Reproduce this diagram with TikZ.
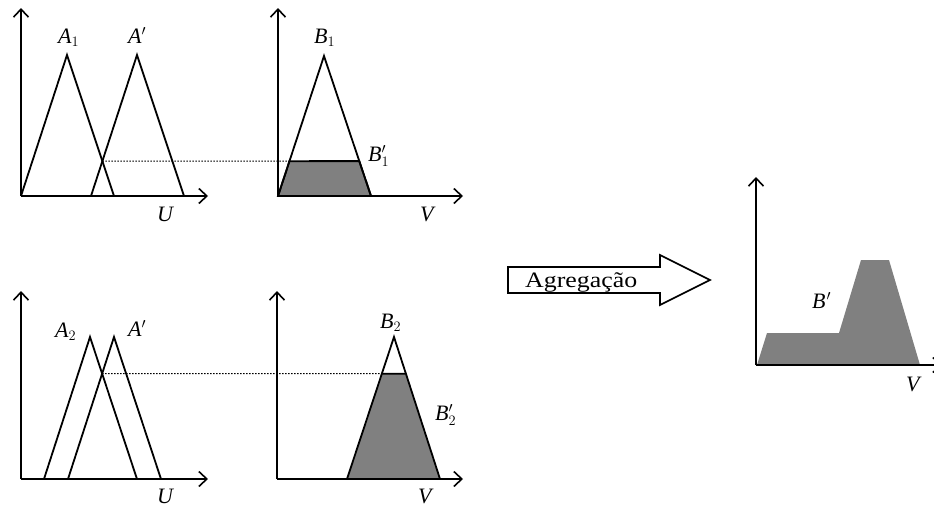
\documentclass[tikz,border=0pt]{standalone}
\usepackage{fontspec}
\setmainfont{Liberation Serif}
\usetikzlibrary{arrows.meta,calc}
\definecolor{shadegray}{RGB}{128,128,128}
\newcommand{\labfont}{\fontsize{22pt}{26pt}\selectfont}
\begin{document}
\begin{tikzpicture}[x=1pt,y=-1pt,
  axis/.style={line width=1.8pt,-{Straight Barb[length=8pt,width=15pt,line width=1.6pt]}},
  mf/.style={line width=1.8pt,line join=miter},
  cut/.style={line width=1.1pt,dash pattern=on 1.5pt off 1.5pt},
  shadebox/.style={line width=1.8pt,fill=shadegray},
  lab/.style={inner sep=0pt,anchor=base west,font=\labfont},
  bigarrow/.style={line width=1.6pt,fill=white,line join=miter}]
\useasboundingbox (0,0) rectangle (934,506);

% ---------- top-left panel ----------
\coordinate (o1) at (21,196);
\coordinate (y1) at (21,8);
\coordinate (x1) at (208,196);
\coordinate (a1l) at (21,196);
\coordinate (a1t) at (67,55);
\coordinate (a1r) at (114,196);
\coordinate (p1l) at (91,196);
\coordinate (p1t) at (137,55);
\coordinate (p1r) at (184,196);
\draw[mf] (a1l) -- (a1t) -- (a1r);
\draw[mf] (p1l) -- (p1t) -- (p1r);
\draw[axis] (o1) -- (y1);
\draw[axis] (o1) -- (x1);
\coordinate (I1) at (intersection of a1t--a1r and p1l--p1t);

% ---------- top-right panel ----------
\coordinate (o2) at (278,196);
\coordinate (y2) at (278,8);
\coordinate (x2) at (463,196);
\coordinate (b1l) at (278,196);
\coordinate (b1t) at (324,56);
\coordinate (b1r) at (371,196);
\coordinate (I1e) at (I1 -| x2);
\coordinate (q1) at (intersection of b1l--b1t and I1--I1e);
\coordinate (q2) at (intersection of b1t--b1r and I1--I1e);
\filldraw[shadebox] (b1l) -- (q1) -- (q2) -- (b1r) -- cycle;
\draw[mf] (b1l) -- (b1t) -- (b1r);
\draw[axis] (o2) -- (y2);
\draw[axis] (o2) -- (x2);
\draw[cut] (I1) -- (q1);

% ---------- bottom-left panel ----------
\coordinate (o3) at (21,479);
\coordinate (y3) at (21,291);
\coordinate (x3) at (208,479);
\coordinate (a2l) at (44,479);
\coordinate (a2t) at (90,337);
\coordinate (a2r) at (137,479);
\coordinate (p2l) at (68,479);
\coordinate (p2t) at (114,337);
\coordinate (p2r) at (161,479);
\draw[mf] (a2l) -- (a2t) -- (a2r);
\draw[mf] (p2l) -- (p2t) -- (p2r);
\draw[axis] (o3) -- (y3);
\draw[axis] (o3) -- (x3);
\coordinate (I2) at (intersection of a2t--a2r and p2l--p2t);

% ---------- bottom-right panel ----------
\coordinate (o4) at (277,479);
\coordinate (y4) at (277,291);
\coordinate (x4) at (463,479);
\coordinate (b2l) at (347,479);
\coordinate (b2t) at (394,337);
\coordinate (b2r) at (440,479);
\coordinate (I2e) at (I2 -| x4);
\coordinate (q3) at (intersection of b2l--b2t and I2--I2e);
\coordinate (q4) at (intersection of b2t--b2r and I2--I2e);
\filldraw[shadebox] (b2l) -- (q3) -- (q4) -- (b2r) -- cycle;
\draw[mf] (q3) -- (b2t) -- (q4);
\draw[axis] (o4) -- (y4);
\draw[axis] (o4) -- (x4);
\draw[cut] (I2) -- (q3);

% ---------- aggregation arrow ----------
\draw[bigarrow] (508,267) -- (660,267) -- (660,255) -- (710,280) -- (660,305) -- (660,293) -- (508,293) -- cycle;
\node[lab] (agg) at (525,287) {\labfont\resizebox{112pt}{\height}{\labfont Agregação}};

% ---------- result panel ----------
\coordinate (o5) at (756,365);
\coordinate (y5) at (756,177);
\coordinate (x5) at (942,365);
\fill[shadegray] (757,365) -- (767,333) -- (839,333) -- (861,260) -- (889,260) -- (920,365) -- cycle;
\draw[axis] (o5) -- (y5);
\draw[axis] (o5) -- (x5);

% ---------- labels ----------
\node[lab] (lA1) at (58,43) {\labfont\textit{A}$_1$};
\node[lab] (lAp1) at (128,43) {\labfont\textit{A}$'$};
\node[lab] (lU1) at (157,221) {\labfont\textit{U}};
\node[lab] (lB1) at (314,43) {\labfont\textit{B}$_1$};
\node[lab] (lB1p) at (368,161) {\labfont\textit{B}$'_1$};
\node[lab] (lV1) at (420,221) {\labfont\textit{V}};
\node[lab] (lA2) at (55,337) {\labfont\textit{A}$_2$};
\node[lab] (lAp2) at (128,336) {\labfont\textit{A}$'$};
\node[lab] (lU2) at (157,503) {\labfont\textit{U}};
\node[lab] (lB2) at (380,328) {\labfont\textit{B}$_2$};
\node[lab] (lB2p) at (435,420) {\labfont\textit{B}$'_2$};
\node[lab] (lV2) at (418,503) {\labfont\textit{V}};
\node[lab] (lBp) at (812,308) {\labfont\textit{B}\kern1pt$'$};
\node[lab] (lV5) at (906,391) {\labfont\textit{V}};
\end{tikzpicture}
\end{document}
